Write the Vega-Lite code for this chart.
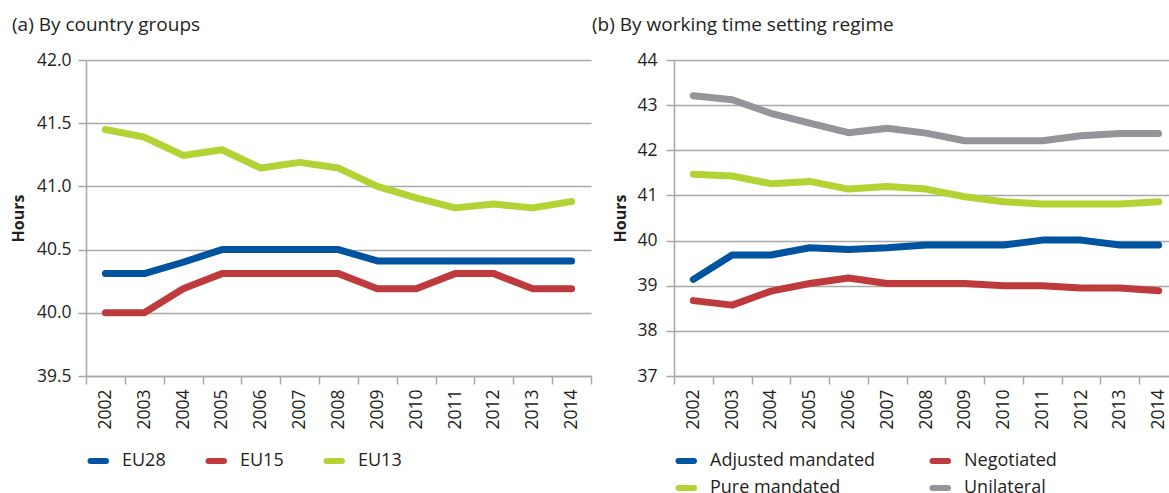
{
  "$schema": "https://vega.github.io/schema/vega-lite/v6.json",
  "padding": {"left": 10, "top": 16, "right": 0, "bottom": 0},
  "background": "white",
  "config": {
    "font": "Open Sans",
    "view": {"stroke": null},
    "axis": {
      "labelFont": "Open Sans", "labelFontSize": 17.5, "labelColor": "#231f20",
      "titleFont": "Open Sans", "titleFontSize": 16, "titleFontWeight": "bold", "titleColor": "#231f20",
      "gridColor": "#a8a8a8", "gridWidth": 1.5,
      "domainColor": "#a8a8a8", "domainWidth": 1.5,
      "tickColor": "#a8a8a8", "tickWidth": 1.5, "tickSize": 8
    },
    "legend": {
      "orient": "bottom", "direction": "horizontal", "title": null,
      "labelFont": "Open Sans", "labelFontSize": 18, "labelColor": "#231f20",
      "symbolType": "M-1.0,-0.222L2.444,-0.222A0.222,0.222,0,0,1,2.444,0.222L-1.0,0.222A0.222,0.222,0,0,1,-1.0,-0.222Z",
      "symbolSize": 81, "symbolStrokeWidth": 4, "labelOffset": 18, "rowPadding": 9,
      "offset": 22, "labelLimit": 300
    },
    "title": {"font": "Open Sans", "fontSize": 19, "fontWeight": "normal", "color": "#231f20", "anchor": "start"},
    "concat": {"spacing": 0}
  },
  "datasets": {
    "a": [
      {"year": "2002", "group": "EU28", "hours": 40.31},
      {"year": "2003", "group": "EU28", "hours": 40.31},
      {"year": "2004", "group": "EU28", "hours": 40.40},
      {"year": "2005", "group": "EU28", "hours": 40.50},
      {"year": "2006", "group": "EU28", "hours": 40.50},
      {"year": "2007", "group": "EU28", "hours": 40.50},
      {"year": "2008", "group": "EU28", "hours": 40.50},
      {"year": "2009", "group": "EU28", "hours": 40.41},
      {"year": "2010", "group": "EU28", "hours": 40.41},
      {"year": "2011", "group": "EU28", "hours": 40.41},
      {"year": "2012", "group": "EU28", "hours": 40.41},
      {"year": "2013", "group": "EU28", "hours": 40.41},
      {"year": "2014", "group": "EU28", "hours": 40.41},
      {"year": "2002", "group": "EU15", "hours": 40.00},
      {"year": "2003", "group": "EU15", "hours": 40.00},
      {"year": "2004", "group": "EU15", "hours": 40.19},
      {"year": "2005", "group": "EU15", "hours": 40.31},
      {"year": "2006", "group": "EU15", "hours": 40.31},
      {"year": "2007", "group": "EU15", "hours": 40.31},
      {"year": "2008", "group": "EU15", "hours": 40.31},
      {"year": "2009", "group": "EU15", "hours": 40.19},
      {"year": "2010", "group": "EU15", "hours": 40.19},
      {"year": "2011", "group": "EU15", "hours": 40.31},
      {"year": "2012", "group": "EU15", "hours": 40.31},
      {"year": "2013", "group": "EU15", "hours": 40.19},
      {"year": "2014", "group": "EU15", "hours": 40.19},
      {"year": "2002", "group": "EU13", "hours": 41.45},
      {"year": "2003", "group": "EU13", "hours": 41.39},
      {"year": "2004", "group": "EU13", "hours": 41.245},
      {"year": "2005", "group": "EU13", "hours": 41.29},
      {"year": "2006", "group": "EU13", "hours": 41.145},
      {"year": "2007", "group": "EU13", "hours": 41.19},
      {"year": "2008", "group": "EU13", "hours": 41.145},
      {"year": "2009", "group": "EU13", "hours": 41.00},
      {"year": "2010", "group": "EU13", "hours": 40.91},
      {"year": "2011", "group": "EU13", "hours": 40.83},
      {"year": "2012", "group": "EU13", "hours": 40.86},
      {"year": "2013", "group": "EU13", "hours": 40.83},
      {"year": "2014", "group": "EU13", "hours": 40.88}
    ],
    "b": [
      {"year": "2002", "regime": "Adjusted mandated", "hours": 39.14},
      {"year": "2003", "regime": "Adjusted mandated", "hours": 39.68},
      {"year": "2004", "regime": "Adjusted mandated", "hours": 39.68},
      {"year": "2005", "regime": "Adjusted mandated", "hours": 39.84},
      {"year": "2006", "regime": "Adjusted mandated", "hours": 39.80},
      {"year": "2007", "regime": "Adjusted mandated", "hours": 39.84},
      {"year": "2008", "regime": "Adjusted mandated", "hours": 39.90},
      {"year": "2009", "regime": "Adjusted mandated", "hours": 39.90},
      {"year": "2010", "regime": "Adjusted mandated", "hours": 39.90},
      {"year": "2011", "regime": "Adjusted mandated", "hours": 40.01},
      {"year": "2012", "regime": "Adjusted mandated", "hours": 40.01},
      {"year": "2013", "regime": "Adjusted mandated", "hours": 39.90},
      {"year": "2014", "regime": "Adjusted mandated", "hours": 39.90},
      {"year": "2002", "regime": "Negotiated", "hours": 38.67},
      {"year": "2003", "regime": "Negotiated", "hours": 38.57},
      {"year": "2004", "regime": "Negotiated", "hours": 38.88},
      {"year": "2005", "regime": "Negotiated", "hours": 39.05},
      {"year": "2006", "regime": "Negotiated", "hours": 39.17},
      {"year": "2007", "regime": "Negotiated", "hours": 39.05},
      {"year": "2008", "regime": "Negotiated", "hours": 39.05},
      {"year": "2009", "regime": "Negotiated", "hours": 39.05},
      {"year": "2010", "regime": "Negotiated", "hours": 39.00},
      {"year": "2011", "regime": "Negotiated", "hours": 39.00},
      {"year": "2012", "regime": "Negotiated", "hours": 38.95},
      {"year": "2013", "regime": "Negotiated", "hours": 38.95},
      {"year": "2014", "regime": "Negotiated", "hours": 38.89},
      {"year": "2002", "regime": "Pure mandated", "hours": 41.47},
      {"year": "2003", "regime": "Pure mandated", "hours": 41.43},
      {"year": "2004", "regime": "Pure mandated", "hours": 41.26},
      {"year": "2005", "regime": "Pure mandated", "hours": 41.31},
      {"year": "2006", "regime": "Pure mandated", "hours": 41.14},
      {"year": "2007", "regime": "Pure mandated", "hours": 41.20},
      {"year": "2008", "regime": "Pure mandated", "hours": 41.14},
      {"year": "2009", "regime": "Pure mandated", "hours": 40.97},
      {"year": "2010", "regime": "Pure mandated", "hours": 40.86},
      {"year": "2011", "regime": "Pure mandated", "hours": 40.81},
      {"year": "2012", "regime": "Pure mandated", "hours": 40.81},
      {"year": "2013", "regime": "Pure mandated", "hours": 40.81},
      {"year": "2014", "regime": "Pure mandated", "hours": 40.86},
      {"year": "2002", "regime": "Unilateral", "hours": 43.21},
      {"year": "2003", "regime": "Unilateral", "hours": 43.12},
      {"year": "2004", "regime": "Unilateral", "hours": 42.82},
      {"year": "2005", "regime": "Unilateral", "hours": 42.60},
      {"year": "2006", "regime": "Unilateral", "hours": 42.39},
      {"year": "2007", "regime": "Unilateral", "hours": 42.49},
      {"year": "2008", "regime": "Unilateral", "hours": 42.38},
      {"year": "2009", "regime": "Unilateral", "hours": 42.21},
      {"year": "2010", "regime": "Unilateral", "hours": 42.21},
      {"year": "2011", "regime": "Unilateral", "hours": 42.21},
      {"year": "2012", "regime": "Unilateral", "hours": 42.32},
      {"year": "2013", "regime": "Unilateral", "hours": 42.37},
      {"year": "2014", "regime": "Unilateral", "hours": 42.37}
    ]
  },
  "hconcat": [
    {
      "title": {"text": "(a) By country groups", "frame": "group", "anchor": "start", "dx": -74, "offset": 16},
      "width": 505,
      "height": 316,
      "data": {"name": "a"},
      "mark": {"type": "line", "strokeWidth": 7, "strokeCap": "round", "strokeJoin": "round"},
      "encoding": {
        "x": {
          "field": "year", "type": "ordinal", "bandPosition": 0.5,
          "scale": {"type": "band", "paddingInner": 0, "paddingOuter": 0},
          "axis": {"title": null, "labelAngle": -90, "tickBand": "extent", "grid": false, "labelPadding": 5}
        },
        "y": {
          "field": "hours", "type": "quantitative",
          "scale": {"domain": [39.5, 42], "zero": false, "nice": false},
          "axis": {"title": "Hours", "values": [39.5, 40, 40.5, 41, 41.5, 42], "format": ".1f", "labelPadding": 7, "titlePadding": 10, "grid": true}
        },
        "color": {
          "field": "group", "type": "nominal",
          "scale": {"domain": ["EU28", "EU15", "EU13"], "range": ["#00539f", "#be3a3c", "#b3d234"]},
          "legend": {"columns": 3, "columnPadding": 33}
        }
      }
    },
    {
      "title": {"text": "(b) By working time setting regime", "frame": "group", "anchor": "start", "dx": -82, "offset": 16},
      "width": 504,
      "height": 316,
      "data": {"name": "b"},
      "mark": {"type": "line", "strokeWidth": 7, "strokeCap": "round", "strokeJoin": "round"},
      "encoding": {
        "x": {
          "field": "year", "type": "ordinal", "bandPosition": 0.5,
          "scale": {"type": "band", "paddingInner": 0, "paddingOuter": 0},
          "axis": {"title": null, "labelAngle": -90, "tickBand": "extent", "grid": false, "labelPadding": 5}
        },
        "y": {
          "field": "hours", "type": "quantitative",
          "scale": {"domain": [37, 44], "zero": false, "nice": false},
          "axis": {"title": "Hours", "values": [37, 38, 39, 40, 41, 42, 43, 44], "format": "d", "labelPadding": 9, "titlePadding": 8, "grid": true}
        },
        "color": {
          "field": "regime", "type": "nominal",
          "scale": {"domain": ["Adjusted mandated", "Negotiated", "Pure mandated", "Unilateral"], "range": ["#00539f", "#be3a3c", "#b3d234", "#939598"]},
          "legend": {"columns": 2, "columnPadding": 47}
        }
      }
    }
  ],
  "resolve": {"scale": {"color": "independent", "y": "independent", "x": "independent"}, "legend": {"color": "independent"}}
}
